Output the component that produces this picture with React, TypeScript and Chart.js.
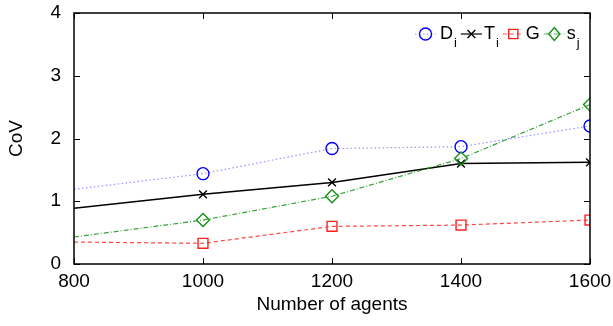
import React, { useEffect, useRef } from "react";
import { Chart, registerables } from "chart.js";

Chart.register(...registerables);

const xValues = [800, 1000, 1200, 1400, 1600];
const dValues = [1.19, 1.44, 1.84, 1.87, 2.2];
const tValues = [0.89, 1.11, 1.3, 1.6, 1.62];
const gValues = [0.35, 0.33, 0.6, 0.62, 0.7];
const sValues = [0.43, 0.7, 1.08, 1.68, 2.54];
const xTicks = [800, 1000, 1200, 1400, 1600];
const yTicks = [0, 1, 2, 3, 4];

const FONT = "'Liberation Sans', Arial, sans-serif";

type LegendItem = {
  main: string;
  sub: string;
  color: string;
  lineColor: string;
  dash: number[];
  marker: string;
  radius: number;
};

const legendItems: LegendItem[] = [
  { main: "D", sub: "i", color: "#0000ff", lineColor: "rgba(90,90,255,0.6)", dash: [1.5, 2.5], marker: "circle", radius: 6 },
  { main: "T", sub: "i", color: "#000000", lineColor: "#000000", dash: [], marker: "crossRot", radius: 5.5 },
  { main: "G", sub: "", color: "#ff2020", lineColor: "rgba(255,40,40,0.8)", dash: [4, 3], marker: "rect", radius: 6.5 },
  { main: "s", sub: "j", color: "#159015", lineColor: "rgba(21,144,21,0.7)", dash: [5, 2, 1, 2], marker: "rectRot", radius: 6.5 },
];

function drawMarker(ctx: CanvasRenderingContext2D, style: string, r: number, x: number, y: number) {
  ctx.beginPath();
  if (style === "circle") {
    ctx.arc(x, y, r, 0, Math.PI * 2);
  } else if (style === "rect") {
    const h = r / Math.SQRT2;
    ctx.rect(x - h, y - h, 2 * h, 2 * h);
  } else if (style === "rectRot") {
    ctx.moveTo(x, y - r);
    ctx.lineTo(x + r * 0.85, y);
    ctx.lineTo(x, y + r);
    ctx.lineTo(x - r * 0.85, y);
    ctx.closePath();
  } else {
    const h = r / Math.SQRT2;
    ctx.moveTo(x - h, y - h);
    ctx.lineTo(x + h, y + h);
    ctx.moveTo(x + h, y - h);
    ctx.lineTo(x - h, y + h);
  }
  ctx.stroke();
}

const framePlugin = {
  id: "frame",
  afterDraw(chart: any) {
    const { ctx, chartArea } = chart;
    const { left, right, top, bottom } = chartArea;
    const xs = chart.scales.x;
    const ys = chart.scales.y;
    ctx.save();
    ctx.strokeStyle = "#000";
    ctx.lineWidth = 1.5;
    ctx.setLineDash([]);
    ctx.strokeRect(left, top, right - left, bottom - top);
    ctx.lineWidth = 1;
    const tl = 6;
    xTicks.forEach((v) => {
      const px = Math.round(xs.getPixelForValue(v)) + 0.5;
      ctx.beginPath();
      ctx.moveTo(px, bottom);
      ctx.lineTo(px, bottom - tl);
      ctx.moveTo(px, top);
      ctx.lineTo(px, top + tl);
      ctx.stroke();
    });
    yTicks.forEach((v) => {
      const py = Math.round(ys.getPixelForValue(v)) + 0.5;
      ctx.beginPath();
      ctx.moveTo(left, py);
      ctx.lineTo(left + tl, py);
      ctx.moveTo(right, py);
      ctx.lineTo(right - tl, py);
      ctx.stroke();
    });

    // legend
    let x = right - 175;
    const y = top + 21;
    ctx.textBaseline = "middle";
    legendItems.forEach((it, idx) => {
      ctx.save();
      ctx.strokeStyle = it.lineColor;
      ctx.lineWidth = 1.2;
      ctx.setLineDash(it.dash);
      ctx.beginPath();
      ctx.moveTo(x, y);
      ctx.lineTo(x + 21, y);
      ctx.stroke();
      ctx.setLineDash([]);
      ctx.strokeStyle = it.color;
      ctx.lineWidth = 1.4;
      drawMarker(ctx, it.marker, it.radius, x + 10.5, y);
      ctx.restore();
      ctx.fillStyle = "#000";
      ctx.font = `18px ${FONT}`;
      ctx.textAlign = "left";
      const tx = x + (idx === 0 ? 25 : 23);
      ctx.fillText(it.main, tx, y);
      const w = ctx.measureText(it.main).width;
      let total = w;
      if (it.sub) {
        ctx.font = `13px ${FONT}`;
        ctx.fillText(it.sub, tx + w + 1, y + 9);
        total += ctx.measureText(it.sub).width + 1;
      }
      x = tx + total + 4;
    });
    ctx.restore();
  },
};

function makeDataset(label: string, data: number[], color: string, lineColor: string, dash: number[], style: string, radius: number, width: number) {
  return {
    label,
    data: xValues.map((x, i) => ({ x, y: data[i] })),
    borderColor: lineColor,
    borderWidth: width,
    borderDash: dash,
    pointStyle: style,
    pointRadius: xValues.map((_, i) => (i === 0 ? 0 : radius)),
    pointBorderColor: color,
    pointBackgroundColor: "rgba(0,0,0,0)",
    pointBorderWidth: 1.4,
    fill: false,
    tension: 0,
  };
}

export default function App() {
  const ref = useRef<HTMLCanvasElement | null>(null);
  useEffect(() => {
    if (!ref.current) return;
    const chart = new Chart(ref.current, {
      type: "line",
      data: {
        datasets: [
          makeDataset("G", gValues, "#ff2020", "rgba(255,40,40,0.85)", [4, 3], "rect", 7, 1.2),
          makeDataset("s_j", sValues, "#159015", "rgba(21,144,21,0.85)", [5, 2, 1, 2], "rectRot", 6.5, 1.2),
          makeDataset("T_i", tValues, "#000000", "#000000", [], "crossRot", 5.5, 1.5),
          makeDataset("D_i", dValues, "#0000ff", "rgba(90,90,255,0.65)", [1.5, 2.5], "circle", 6, 1.2),
        ] as any,
      },
      options: {
        responsive: false,
        animation: false,
        layout: { padding: { top: 13, right: 23, left: 0, bottom: 0 } },
        plugins: { legend: { display: false }, tooltip: { enabled: false } },
        scales: {
          x: {
            type: "linear",
            min: 800,
            max: 1600,
            afterFit: (s: any) => { s.height = 62; s.paddingLeft = 0; s.paddingRight = 0; },
            afterBuildTicks: (s: any) => { s.ticks = xTicks.map((v) => ({ value: v })); },
            grid: { display: false, drawTicks: false },
            border: { display: false },
            ticks: { color: "#000", font: { family: FONT, size: 19 }, padding: 6, maxRotation: 0, callback: (v: any) => String(v) },
            title: { display: true, text: "Number of agents", color: "#000", font: { family: FONT, size: 19 }, padding: { top: 0, bottom: 10 } },
          },
          y: {
            type: "linear",
            min: 0,
            max: 4,
            afterFit: (s: any) => { s.width = 74; s.paddingTop = 0; s.paddingBottom = 0; },
            afterBuildTicks: (s: any) => { s.ticks = yTicks.map((v) => ({ value: v })); },
            grid: { display: false, drawTicks: false },
            border: { display: false },
            ticks: { color: "#000", font: { family: FONT, size: 19 }, padding: 13, callback: (v: any) => String(v) },
            title: { display: true, text: "CoV", color: "#000", font: { family: FONT, size: 19 }, padding: { bottom: 0, top: 5 } },
          },
        },
      },
      plugins: [framePlugin],
    });
    return () => chart.destroy();
  }, []);
  return (
    <div style={{ position: "fixed", left: 0, top: 0, width: 613, height: 326, background: "#fff" }}>
      <canvas ref={ref} width={613} height={326} style={{ display: "block" }} />
    </div>
  );
}
